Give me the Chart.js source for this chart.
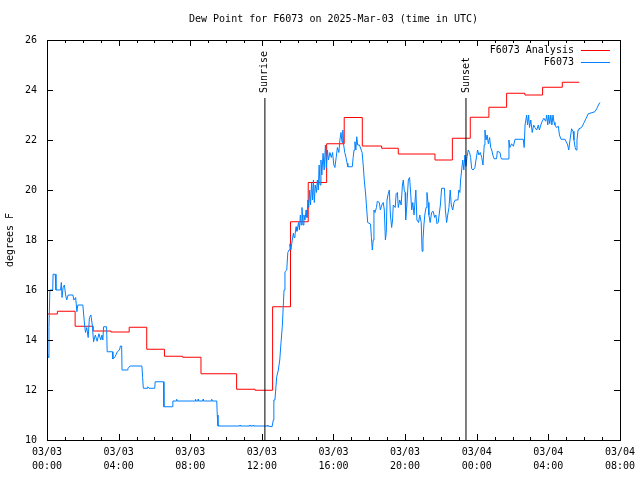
<!DOCTYPE html>
<html lang="en">
<head>
    <meta charset="UTF-8">
    <title>Dew Point for F6073</title>
    <style>
        html, body { margin: 0; padding: 0; background: #fff; }
        #wrap { width: 640px; height: 480px; }
    </style>
</head>
<body>

<div id="wrap">
    <canvas id="myChart" width="640" height="480"></canvas>
</div>

<script src="https://cdn.jsdelivr.net/npm/chart.js@4.4.1/dist/chart.umd.min.js"></script>
<script>
    var chartTitle = 'Dew Point for F6073 on 2025-Mar-03 (time in UTC)';
    var seriesNames = ['F6073 Analysis', 'F6073'];

    // hours since 03/03 00:00 UTC
    var xRange = [0, 32];
    var yRange = [10, 26];

    // hourly analysis, each value holds until the next step
    var analysisHours = [0, 0.58, 1.57, 2.58, 3.57, 4.59, 5.57, 6.56, 7.58, 8.6, 10.59, 11.62,
        12.6, 13.6, 14.59, 15.62, 16.6, 17.61, 18.69, 19.62, 21.67, 22.64, 23.64, 24.68,
        25.67, 26.69, 27.68, 28.78, 29.73];
    var analysisValues = [15.04, 15.15, 14.55, 14.36, 14.32, 14.51, 13.63, 13.35, 13.31, 12.65, 12.03, 11.99,
        15.33, 18.73, 20.3, 21.85, 22.9, 21.76, 21.67, 21.44, 21.2, 22.07, 22.91, 23.31,
        23.87, 23.8, 24.11, 24.31, 24.31];

    // station readings [hour, dew point F]
    var observed = [
        [0.00, 13.9], [0.03, 13.5], [0.07, 13.3], [0.11, 14.5], [0.16, 16.0], [0.32, 16.0], [0.34, 16.63],
        [0.46, 16.63], [0.5, 16.0], [0.76, 16.0], [0.8, 16.3], [0.84, 15.7], [0.9, 16.1], [0.97, 16.2],
        [1.04, 15.8], [1.1, 15.6], [1.18, 15.8], [1.45, 15.8], [1.5, 15.6], [1.6, 15.7], [1.67, 15.13],
        [1.72, 15.4], [2.0, 15.4], [2.05, 15.0], [2.1, 14.6], [2.15, 14.3], [2.22, 14.5], [2.3, 14.1],
        [2.37, 14.9], [2.45, 15.0], [2.53, 14.6], [2.6, 13.93], [2.7, 14.2], [2.8, 13.95], [2.9, 14.25],
        [3.0, 14.0], [3.07, 14.2], [3.12, 14.0], [3.16, 14.53], [3.33, 14.53], [3.36, 13.53], [3.66, 13.53],
        [3.68, 13.24], [3.8, 13.33], [3.93, 13.53], [4.05, 13.6], [4.1, 13.76], [4.17, 13.76], [4.19, 12.8],
        [4.49, 12.8], [4.52, 12.86], [4.64, 12.96], [5.3, 12.96], [5.34, 12.5], [5.38, 12.07], [5.6, 12.07],
        [5.63, 12.13], [5.7, 12.07], [6.02, 12.07], [6.04, 12.33], [6.51, 12.33], [6.53, 11.33], [7.0, 11.33],
        [7.03, 11.56], [7.22, 11.56], [7.24, 11.63], [7.27, 11.56], [8.27, 11.56], [8.29, 11.63], [8.31, 11.56],
        [8.42, 11.56], [8.44, 11.63], [8.46, 11.56], [8.7, 11.56], [8.72, 11.63], [8.74, 11.56], [9.18, 11.56],
        [9.2, 11.63], [9.22, 11.56], [9.48, 11.56], [9.51, 11.0], [9.55, 10.56], [10.76, 10.56], [10.78, 10.6],
        [10.8, 10.56], [11.32, 10.56], [11.34, 10.6], [11.36, 10.56], [11.5, 10.56], [11.52, 10.6], [11.54, 10.56],
        [12.3, 10.56], [12.32, 10.6], [12.34, 10.56], [12.57, 10.53], [12.64, 10.8], [12.67, 11.6], [12.73, 11.6],
        [12.83, 12.53], [12.92, 12.8], [13.0, 13.2], [13.07, 13.9], [13.14, 14.53], [13.24, 16.0], [13.29, 16.73],
        [13.39, 16.8], [13.45, 17.5], [13.52, 17.6], [13.57, 17.85], [13.62, 17.6], [13.7, 18.0], [13.76, 18.27],
        [13.8, 18.1], [13.85, 18.2], [13.91, 18.53], [13.96, 18.35], [14.0, 18.5], [14.05, 18.7], [14.1, 18.4],
        [14.15, 19.0], [14.2, 18.6], [14.24, 19.3], [14.3, 18.6], [14.35, 19.0], [14.41, 18.8], [14.47, 19.2],
        [14.52, 18.9], [14.57, 19.6], [14.62, 19.3], [14.67, 20.0], [14.72, 19.4], [14.78, 20.3], [14.83, 19.6],
        [14.88, 20.4], [14.93, 19.5], [14.98, 20.2], [15.05, 19.9], [15.1, 20.4], [15.15, 20.0], [15.2, 21.0],
        [15.25, 20.2], [15.3, 21.2], [15.35, 20.6], [15.42, 21.47], [15.48, 20.8], [15.55, 21.8], [15.6, 20.9],
        [15.66, 21.6], [15.72, 21.2], [15.8, 21.5], [15.88, 21.3], [15.95, 21.5], [16.02, 21.0], [16.08, 20.9],
        [16.15, 21.3], [16.22, 21.7], [16.3, 21.5], [16.36, 22.0], [16.42, 22.3], [16.48, 21.9], [16.52, 22.4],
        [16.57, 21.8], [16.63, 21.5], [16.7, 21.3], [16.76, 21.07], [16.8, 20.93], [17.05, 20.93], [17.1, 21.3],
        [17.15, 21.6], [17.2, 21.93], [17.25, 21.6], [17.3, 22.13], [17.35, 21.8], [17.45, 21.8], [17.6, 21.5],
        [17.66, 21.0], [17.72, 20.4], [17.8, 19.8], [17.86, 19.2], [17.91, 18.7], [18.07, 18.64], [18.12, 18.1],
        [18.17, 17.6], [18.22, 18.0], [18.26, 19.2], [18.32, 19.1], [18.4, 19.3], [18.45, 19.55], [18.56, 19.5],
        [18.62, 19.2], [18.7, 19.4], [18.78, 19.5], [18.84, 19.2], [18.9, 18.0], [18.95, 18.3], [18.99, 19.6],
        [19.06, 19.85], [19.12, 20.0], [19.18, 19.0], [19.25, 18.5], [19.3, 18.8], [19.34, 19.4], [19.45, 19.3],
        [19.5, 19.85], [19.57, 19.9], [19.62, 19.3], [19.7, 19.6], [19.78, 19.4], [19.85, 20.2], [19.9, 20.4],
        [19.95, 20.0], [20.0, 19.9], [20.03, 18.8], [20.1, 19.4], [20.18, 20.4], [20.25, 20.5], [20.3, 20.0],
        [20.37, 19.2], [20.43, 19.5], [20.5, 19.0], [20.6, 20.0], [20.66, 18.8], [20.75, 18.7], [20.82, 19.0],
        [20.9, 18.7], [20.95, 17.55], [21.0, 18.0], [21.05, 18.6], [21.1, 19.0], [21.17, 19.3], [21.22, 19.9],
        [21.28, 19.5], [21.33, 19.0], [21.4, 18.7], [21.48, 19.1], [21.57, 19.15], [21.65, 18.9], [21.72, 19.0],
        [21.78, 18.65], [21.85, 18.7], [21.9, 19.0], [21.97, 19.4], [22.04, 20.07], [22.2, 20.07], [22.25, 19.2],
        [22.32, 18.7], [22.38, 19.0], [22.45, 19.3], [22.52, 20.0], [22.58, 19.4], [22.66, 19.2], [22.73, 19.5],
        [22.8, 19.6], [22.95, 19.6], [23.0, 20.0], [23.06, 19.9], [23.1, 20.4], [23.16, 20.8], [23.22, 21.2],
        [23.28, 20.8], [23.34, 21.4], [23.4, 20.95], [23.46, 21.33], [23.53, 21.6], [23.6, 21.5], [23.66, 21.3],
        [23.72, 20.85], [23.8, 20.8], [23.9, 20.9], [23.96, 21.2], [24.05, 21.6], [24.12, 21.4], [24.2, 21.5],
        [24.28, 21.3], [24.35, 21.0], [24.42, 21.8], [24.46, 22.4], [24.52, 22.0], [24.58, 22.2], [24.65, 21.85],
        [24.72, 22.1], [24.78, 21.7], [24.84, 21.6], [24.9, 21.4], [24.97, 21.25], [25.11, 21.25], [25.15, 21.55],
        [25.3, 21.5], [25.35, 21.3], [25.39, 21.24], [25.76, 21.24], [25.8, 22.0], [25.85, 21.7], [25.95, 21.85],
        [26.05, 21.75], [26.14, 22.03], [26.6, 22.03], [26.65, 21.7], [26.7, 22.6], [26.79, 23.0], [26.84, 22.6],
        [26.9, 23.0], [26.95, 22.5], [27.02, 22.8], [27.1, 22.3], [27.18, 22.6], [27.25, 22.5], [27.35, 22.4],
        [27.44, 22.6], [27.5, 22.4], [27.58, 22.6], [27.66, 22.75], [27.75, 22.87], [27.85, 22.75], [27.91, 23.0],
        [27.97, 22.6], [28.02, 23.0], [28.08, 22.65], [28.14, 23.0], [28.2, 22.6], [28.26, 23.0], [28.32, 22.7],
        [28.37, 22.6], [28.45, 22.5], [28.56, 22.55], [28.62, 22.2], [28.71, 22.03], [28.93, 22.03], [29.0, 21.93],
        [29.08, 21.8], [29.14, 21.6], [29.21, 22.0], [29.3, 22.45], [29.38, 22.35], [29.43, 22.0], [29.5, 21.7],
        [29.55, 21.6], [29.6, 22.0], [29.66, 22.4], [29.71, 22.45], [29.86, 22.5], [30.0, 22.7], [30.1, 22.85],
        [30.23, 23.05], [30.6, 23.13], [30.7, 23.25], [30.8, 23.4], [30.88, 23.5]
    ];

    // sunrise / sunset markers
    var sunHours = [12.17, 23.4];
    var sunLabels = ['Sunrise', 'Sunset'];
    var sunLineTop = 23.68;

    var monoFont = "'DejaVu Sans Mono', 'Liberation Mono', monospace";
    var pad2 = function (n) { return (n < 10 ? '0' : '') + n; };

    var datasets = [
        {
            label: seriesNames[0],
            data: analysisHours.map(function (h, i) { return { x: h, y: analysisValues[i] }; }),
            borderColor: '#ff0000',
            borderWidth: 1,
            pointRadius: 0,
            stepped: true,
            order: 2
        },
        {
            label: seriesNames[1],
            data: observed.map(function (p) { return { x: p[0], y: p[1] }; }),
            borderColor: '#0080ff',
            borderWidth: 1,
            pointRadius: 0,
            order: 1
        }
    ];
    sunHours.forEach(function (h, i) {
        datasets.push({
            label: sunLabels[i],
            data: [{ x: h, y: yRange[0] }, { x: h, y: sunLineTop }],
            borderColor: '#000',
            borderWidth: 1,
            pointRadius: 0,
            order: 0
        });
    });

    // gnuplot-ish frame, inward ticks, title, legend and marker labels
    var gnuFrame = {
        id: 'gnuFrame',
        afterDatasetsDraw: function (chart) {
            var ctx = chart.ctx, a = chart.chartArea;
            var xs = chart.scales.x, ys = chart.scales.y;
            ctx.save();
            ctx.strokeStyle = '#000';
            ctx.lineWidth = 1;
            ctx.beginPath();
            for (var h = xRange[0]; h <= xRange[1]; h++) {
                var px = Math.round(xs.getPixelForValue(h)) + 0.5;
                var len = h % 4 === 0 ? 6 : 3;
                ctx.moveTo(px, a.bottom); ctx.lineTo(px, a.bottom - len);
                ctx.moveTo(px, a.top); ctx.lineTo(px, a.top + len);
            }
            for (var v = yRange[0]; v <= yRange[1]; v += 2) {
                var py = Math.round(ys.getPixelForValue(v)) + 0.5;
                ctx.moveTo(a.left, py); ctx.lineTo(a.left + 6, py);
                ctx.moveTo(a.right, py); ctx.lineTo(a.right - 6, py);
            }
            ctx.stroke();
            ctx.strokeRect(Math.round(a.left) + 0.5, Math.round(a.top) + 0.5,
                Math.round(a.right - a.left), Math.round(a.bottom - a.top));

            ctx.fillStyle = '#000';
            ctx.font = '10px ' + monoFont;
            ctx.textBaseline = 'middle';

            ctx.textAlign = 'center';
            ctx.fillText(chartTitle, (a.left + a.right) / 2, 19);

            // legend
            for (var i = 0; i < 2; i++) {
                var ly = a.top + 10 + i * 12;
                ctx.textAlign = 'right';
                ctx.fillStyle = '#000';
                ctx.fillText(chart.data.datasets[i].label, a.right - 46, ly);
                ctx.strokeStyle = chart.data.datasets[i].borderColor;
                ctx.beginPath();
                ctx.moveTo(a.right - 39, Math.round(ly) + 0.5);
                ctx.lineTo(a.right - 10, Math.round(ly) + 0.5);
                ctx.stroke();
            }

            // Sunrise / Sunset labels above their lines
            ctx.fillStyle = '#000';
            for (var k = 0; k < sunHours.length; k++) {
                var top = chart.getDatasetMeta(2 + k).data[1];
                ctx.save();
                ctx.translate(top.x, top.y - 5);
                ctx.rotate(-Math.PI / 2);
                ctx.textAlign = 'left';
                ctx.fillText(sunLabels[k], 0, 0);
                ctx.restore();
            }
            ctx.restore();
        }
    };

    Chart.defaults.color = '#000';
    Chart.defaults.font.family = monoFont;
    Chart.defaults.font.size = 10;

    new Chart(document.getElementById('myChart'), {
        type: 'line',
        data: { datasets: datasets },
        options: {
            responsive: false,
            animation: false,
            events: [],
            layout: { padding: { left: 0, right: 20, top: 40, bottom: 0 } },
            plugins: {
                legend: { display: false },
                title: { display: false },
                tooltip: { enabled: false }
            },
            scales: {
                x: {
                    type: 'linear',
                    min: xRange[0],
                    max: xRange[1],
                    grid: { display: false, drawTicks: false },
                    border: { display: false },
                    afterFit: function (s) { s.height = 40; },
                    ticks: {
                        stepSize: 4,
                        maxRotation: 0,
                        autoSkip: false,
                        padding: 5,
                        font: { size: 10, lineHeight: 1.4 },
                        callback: function (val) {
                            var day = 3 + Math.floor(val / 24);
                            var hr = val % 24;
                            return ['03/' + pad2(day), pad2(hr) + ':00'];
                        }
                    }
                },
                y: {
                    min: yRange[0],
                    max: yRange[1],
                    grid: { display: false, drawTicks: false },
                    border: { display: false },
                    afterFit: function (s) { s.width = 47; },
                    ticks: { stepSize: 2, padding: 10 },
                    title: {
                        display: true,
                        text: 'degrees F',
                        font: { size: 10 },
                        padding: { top: 4, bottom: 0 }
                    }
                }
            }
        },
        plugins: [gnuFrame]
    });
</script>

</body>
</html>
